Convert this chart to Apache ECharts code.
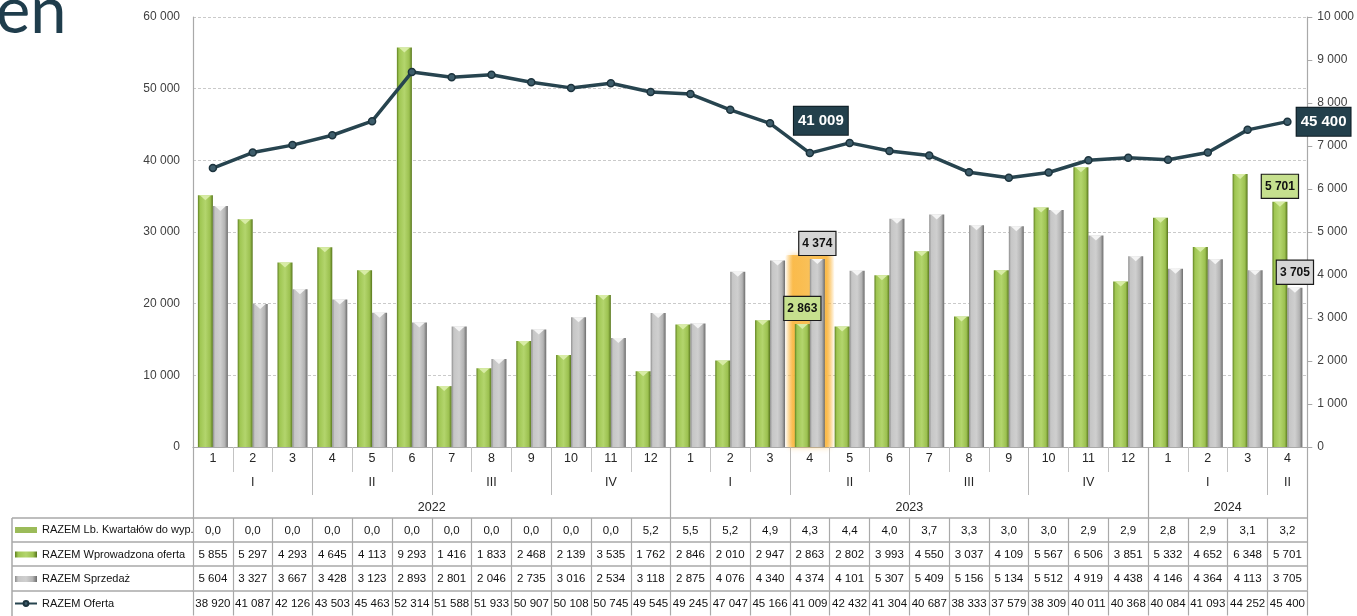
<!DOCTYPE html>
<html>
<head>
<meta charset="utf-8">
<script src="https://cdn.jsdelivr.net/npm/echarts@6/dist/echarts.min.js"></script>
<style>
  html, body { margin: 0; padding: 0; background: #ffffff; overflow: hidden; }
  #chart { width: 1357px; height: 616px; }
</style>
</head>
<body>
<div id="chart"></div>
<script>
// ---- categories: months, with their year ----
const months   = [1,2,3,4,5,6,7,8,9,10,11,12, 1,2,3,4,5,6,7,8,9,10,11,12, 1,2,3,4];
const catYears = [2022,2022,2022,2022,2022,2022,2022,2022,2022,2022,2022,2022,
                  2023,2023,2023,2023,2023,2023,2023,2023,2023,2023,2023,2023,
                  2024,2024,2024,2024];
const quarterNames = ['I', 'II', 'III', 'IV'];

// ---- series ----
const kwartaly    = [0.0,0.0,0.0,0.0,0.0,0.0,0.0,0.0,0.0,0.0,0.0,5.2,
                     5.5,5.2,4.9,4.3,4.4,4.0,3.7,3.3,3.0,3.0,2.9,2.9,
                     2.8,2.9,3.1,3.2];
const wprowadzona = [5855,5297,4293,4645,4113,9293,1416,1833,2468,2139,3535,1762,
                     2846,2010,2947,2863,2802,3993,4550,3037,4109,5567,6506,3851,
                     5332,4652,6348,5701];
const sprzedaz    = [5604,3327,3667,3428,3123,2893,2801,2046,2735,3016,2534,3118,
                     2875,4076,4340,4374,4101,5307,5409,5156,5134,5512,4919,4438,
                     4146,4364,4113,3705];
const oferta      = [38920,41087,42126,43503,45463,52314,51588,51933,50907,50108,50745,49545,
                     49245,47047,45166,41009,42432,41304,40687,38333,37579,38309,40011,40368,
                     40084,41093,44252,45400];

const seriesNames = ['RAZEM Lb. Kwartałów do wyp.', 'RAZEM Wprowadzona oferta', 'RAZEM Sprzedaż', 'RAZEM Oferta'];

// ---- axis scales ----
const leftTicks  = [0, 10000, 20000, 30000, 40000, 50000, 60000];
const rightTicks = [0, 1000, 2000, 3000, 4000, 5000, 6000, 7000, 8000, 9000, 10000];

// months whose values are called out with boxes; the first one is also lit up
const calloutIdx = [15, 27];
const glowIdx = 15;

// ---- helpers ----
const FONT = "'Liberation Sans', Arial, sans-serif";
const fmt = v => String(v).replace(/\B(?=(\d{3})+(?!\d))/g, ' ');
const fmtDec = v => v.toFixed(1).replace('.', ',');

// quarter and year spans over the month categories
const qSpans = [];
months.forEach((m, i) => {
  const key = catYears[i] + '-' + Math.ceil(m / 3);
  const last = qSpans[qSpans.length - 1];
  if (last && last.key === key) last.end = i;
  else qSpans.push({ key, start: i, end: i });
});
const qStart = new Set(qSpans.map(s => s.start));
const qCenter = new Set(qSpans.map(s => (s.start + s.end) / 2));
const qLabelOf = months.map(m => quarterNames[Math.ceil(m / 3) - 1]);

const ySpans = [];
catYears.forEach((y, i) => {
  const last = ySpans[ySpans.length - 1];
  if (last && last.year === y) last.end = i;
  else ySpans.push({ year: y, start: i, end: i });
});
const yearTickVals = ySpans.map(s => s.start).concat([months.length]);
const yearLabelVals = ySpans.map(s => (s.start + s.end + 1) / 2);
const yearAt = {};
ySpans.forEach(s => { yearAt[(s.start + s.end + 1) / 2] = String(s.year); });

// ---- layout ----
const GRID_LEFT = 193, GRID_TOP = 17, GRID_H = 430, GRID_W = 1120;
const GRID_BOTTOM_Y = GRID_TOP + GRID_H;
const TABLE_LEFT = 12;
const rowOffsets = [71, 95, 119, 144];
const ROW_H = 24.5;
const BAR_W = 15;
const LINE_COL = '#27444f';
const TABLE_LINE = '#a9a9a9';

const greenFill = new echarts.graphic.LinearGradient(0, 0, 1, 0, [
  { offset: 0, color: '#5f8020' }, { offset: 0.14, color: '#9fc652' },
  { offset: 0.5, color: '#b3d56d' }, { offset: 0.82, color: '#9cc150' },
  { offset: 1, color: '#56741c' }
]);
const greyFill = new echarts.graphic.LinearGradient(0, 0, 1, 0, [
  { offset: 0, color: '#8c8c8c' }, { offset: 0.14, color: '#c6c6c6' },
  { offset: 0.5, color: '#cfcfcf' }, { offset: 0.8, color: '#b3b3b3' },
  { offset: 1, color: '#6c6c6c' }
]);
const glowFill = new echarts.graphic.LinearGradient(0, 0, 1, 0, [
  { offset: 0, color: 'rgba(251,190,80,0)' }, { offset: 0.16, color: 'rgba(250,182,62,0.85)' },
  { offset: 0.5, color: '#f9c15a' }, { offset: 0.84, color: 'rgba(250,182,62,0.85)' },
  { offset: 1, color: 'rgba(251,190,80,0)' }
]);

const boxLabel = (bg) => ({
  show: true, position: 'top', distance: 4,
  formatter: p => fmt(p.value),
  backgroundColor: bg, borderColor: '#1b1b1b', borderWidth: 1.2,
  padding: [6, 3, 5, 3], color: '#111', fontWeight: 'bold', fontSize: 12, fontFamily: FONT
});

const greenData = wprowadzona.map((v, i) => calloutIdx.includes(i)
  ? { value: v, label: boxLabel('#c6e08e') } : v);
const greyData = sprzedaz.map((v, i) => calloutIdx.includes(i)
  ? { value: v, label: boxLabel('#d6d6d6') } : v);
const lineData = oferta.map((v, i) => {
  if (!calloutIdx.includes(i)) return v;
  const last = i === oferta.length - 1;
  return {
    value: v,
    label: {
      show: true, position: last ? 'right' : 'top', distance: last ? 5 : 14,
      offset: last ? [0, 0] : [11, 0],
      formatter: p => fmt(p.value),
      backgroundColor: '#23404c', borderColor: '#0c1a20', borderWidth: 1,
      padding: [7, 4, 6, 4], color: '#ffffff', fontSize: 15, fontWeight: 'bold', fontFamily: FONT
    }
  };
});

// one x axis per table row, stacked under the plot
const tableRows = [kwartaly.map(fmtDec), wprowadzona.map(fmt), sprzedaz.map(fmt), oferta.map(fmt)];
const tableAxes = tableRows.map((row, r) => ({
  type: 'category', gridIndex: 0, position: 'bottom', offset: rowOffsets[r],
  data: row,
  axisLine: { show: true, lineStyle: { color: TABLE_LINE, width: 1.5 } },
  axisTick: { show: true, interval: 0, length: ROW_H, lineStyle: { color: TABLE_LINE, width: 1.2 } },
  axisLabel: { interval: 0, margin: 7, fontSize: 11.5, color: '#111', fontFamily: FONT },
  splitLine: { show: false }
}));

const legendTop = GRID_BOTTOM_Y + rowOffsets[0] + 5;

const option = {
  animation: false,
  backgroundColor: '#ffffff',
  textStyle: { fontFamily: FONT },
  grid: { left: GRID_LEFT, top: GRID_TOP, width: GRID_W, height: GRID_H, containLabel: false },
  legend: {
    orient: 'vertical', left: TABLE_LEFT + 2, top: legendTop, padding: 0,
    itemWidth: 22, itemHeight: 6, itemGap: 10.5, selectedMode: false,
    textStyle: { fontSize: 11, lineHeight: 14, color: '#111', fontFamily: FONT },
    data: [
      { name: seriesNames[0], icon: 'rect', itemStyle: { color: '#9bbb59' } },
      { name: seriesNames[1], icon: 'rect' },
      { name: seriesNames[2], icon: 'rect' },
      { name: seriesNames[3] }
    ]
  },
  xAxis: [
    { // months
      type: 'category', gridIndex: 0, position: 'bottom',
      data: months.map(String),
      axisLine: { show: true, lineStyle: { color: TABLE_LINE, width: 1.2 } },
      axisTick: { show: true, interval: 0, length: 25, lineStyle: { color: '#c3c3c3' } },
      axisLabel: { interval: 0, margin: 5, fontSize: 12.5, color: '#262626' },
      splitLine: { show: false }
    },
    { // quarters
      type: 'category', gridIndex: 0, position: 'bottom',
      data: qLabelOf,
      axisLine: { show: false },
      axisTick: { show: true, interval: i => qStart.has(i), length: 48, lineStyle: { color: '#b8b8b8' } },
      axisLabel: { interval: i => qCenter.has(i), margin: 29, fontSize: 12.5, color: '#262626' },
      splitLine: { show: false }
    },
    { // years
      type: 'value', gridIndex: 0, position: 'bottom', min: 0, max: months.length,
      axisLine: { show: false },
      axisTick: { show: true, customValues: yearTickVals, length: 71, lineStyle: { color: TABLE_LINE, width: 1.2 } },
      axisLabel: { customValues: yearLabelVals, formatter: v => yearAt[v] || '', margin: 54, fontSize: 12.5, color: '#262626' },
      splitLine: { show: false }
    }
  ].concat(tableAxes),
  yAxis: [
    {
      type: 'value', position: 'left',
      min: leftTicks[0], max: leftTicks[leftTicks.length - 1], interval: leftTicks[1] - leftTicks[0],
      axisLine: { show: true, lineStyle: { color: TABLE_LINE, width: 1.2 } },
      axisTick: { show: false },
      axisLabel: { formatter: fmt, margin: 13, fontSize: 12, color: '#404040' },
      splitLine: { show: true, lineStyle: { color: '#cacaca', type: [3, 2] } }
    },
    {
      type: 'value', position: 'right',
      min: rightTicks[0], max: rightTicks[rightTicks.length - 1], interval: rightTicks[1] - rightTicks[0],
      axisLine: { show: true, lineStyle: { color: TABLE_LINE, width: 1.2 } },
      axisTick: { show: true, length: 5, lineStyle: { color: TABLE_LINE } },
      axisLabel: { formatter: fmt, margin: 10, fontSize: 12, color: '#404040' },
      splitLine: { show: false }
    }
  ],
  series: [
    { // glow behind the called-out month
      type: 'custom', xAxisIndex: 0, yAxisIndex: 1, z: 1, silent: true,
      data: [[glowIdx, Math.max(wprowadzona[glowIdx], sprzedaz[glowIdx]) + 90]],
      renderItem(params, api) {
        const top = api.coord([api.value(0), api.value(1)]);
        const base = api.coord([api.value(0), 0]);
        const w = api.size([1, 0])[0] * 1.25;
        return {
          type: 'rect',
          shape: { x: top[0] - w / 2, y: top[1], width: w, height: base[1] - top[1], r: 3 },
          style: { fill: glowFill, shadowBlur: 6, shadowColor: 'rgba(250,180,60,0.6)' }
        };
      }
    },
    {
      name: seriesNames[0], type: 'line', xAxisIndex: 0, yAxisIndex: 1,
      data: kwartaly, symbol: 'none', silent: true,
      itemStyle: { color: '#9bbb59' }, lineStyle: { opacity: 0 }
    },
    {
      name: seriesNames[1], type: 'bar', xAxisIndex: 0, yAxisIndex: 1, z: 2,
      barWidth: BAR_W, barGap: '0%',
      itemStyle: { color: greenFill }, data: greenData
    },
    {
      name: seriesNames[2], type: 'bar', xAxisIndex: 0, yAxisIndex: 1, z: 2,
      barWidth: BAR_W, barGap: '0%',
      itemStyle: { color: greyFill }, data: greyData
    },
    { // bevel caps on the bar tops
      type: 'custom', xAxisIndex: 0, yAxisIndex: 1, z: 3, silent: true,
      data: wprowadzona.map((v, i) => [i, v, sprzedaz[i]]),
      renderItem(params, api) {
        const half = BAR_W / 2;
        const g = api.coord([api.value(0), api.value(1)]);
        const s = api.coord([api.value(0), api.value(2)]);
        const cap = (cx, top, fill) => ({
          type: 'polygon',
          shape: { points: [[cx - half + 2, top], [cx + half - 2, top], [cx, top + 5]] },
          style: { fill }
        });
        return { type: 'group', children: [cap(g[0] - half, g[1], '#d8eca6'), cap(s[0] + half, s[1], '#f4f4f4')] };
      }
    },
    {
      name: seriesNames[3], type: 'line', xAxisIndex: 0, yAxisIndex: 0, z: 5,
      data: lineData,
      symbol: 'circle', symbolSize: 7,
      lineStyle: { color: LINE_COL, width: 3.5 },
      itemStyle: { color: '#3e5d6b', borderColor: '#1c333d', borderWidth: 1.5 }
    }
  ],
  graphic: [
    { // slide heading fragment
      type: 'text', left: -4, top: -20, silent: true,
      style: { text: 'en', fontSize: 65, fontFamily: "Lato, 'Open Sans', sans-serif", fill: '#1f3d4c' }
    },
    // table frame around the legend column
    ...rowOffsets.map(o => ({
      type: 'line', silent: true,
      shape: { x1: TABLE_LEFT, y1: GRID_BOTTOM_Y + o, x2: GRID_LEFT, y2: GRID_BOTTOM_Y + o },
      style: { stroke: TABLE_LINE, lineWidth: 1.5 }
    })),
    {
      type: 'line', silent: true,
      shape: { x1: TABLE_LEFT, y1: GRID_BOTTOM_Y + rowOffsets[0], x2: TABLE_LEFT, y2: 616 },
      style: { stroke: TABLE_LINE, lineWidth: 1.5 }
    }
  ]
};

const chart = echarts.init(document.getElementById('chart'), null, { renderer: 'canvas' });
chart.setOption(option);
</script>
</body>
</html>
